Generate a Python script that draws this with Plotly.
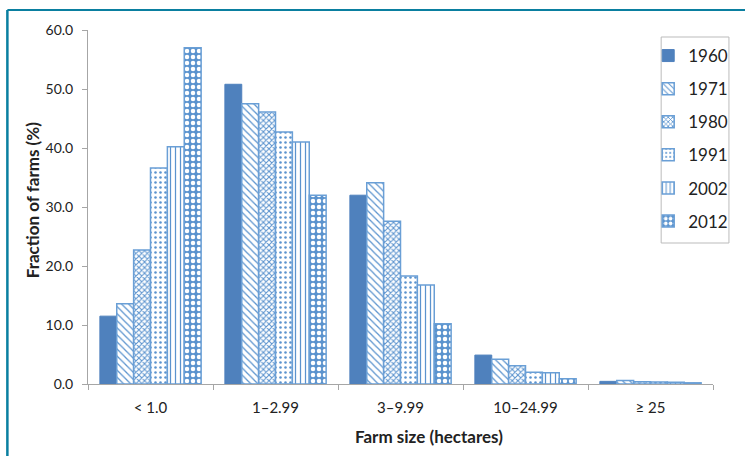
import plotly.graph_objects as go

categories = ["< 1.0", "1–2.99", "3–9.99", "10–24.99", "≥ 25"]
years = ["1960", "1971", "1980", "1991", "2002", "2012"]
v1960 = [11.5, 50.8, 32.0, 4.9, 0.45]
v1971 = [13.6, 47.5, 34.1, 4.2, 0.6]
v1980 = [22.7, 46.1, 27.6, 3.1, 0.4]
v1991 = [36.6, 42.7, 18.3, 2.0, 0.35]
v2002 = [40.2, 41.0, 16.8, 1.9, 0.3]
v2012 = [57.0, 32.0, 10.2, 0.9, 0.2]
series = [v1960, v1971, v1980, v1991, v2002, v2012]
patterns = ["", "\\", "x", ".", "|", "."]
psizes = [6, 5, 4, 5, 5, 6]
psolid = [0, 0.25, 0.45, 0.2, 0.25, 0.45]
pfg = ["", "#5B93CE", "#5B93CE", "#5B93CE", "#5B93CE", "white"]
pbg = ["", "white", "white", "white", "white", "#5B93CE"]

BLUE = "#4F81BD"
fig = go.Figure()
for i, (yr, vals) in enumerate(zip(years, series)):
    if patterns[i] == "":
        marker = dict(color=BLUE, line=dict(color=BLUE, width=1))
    else:
        marker = dict(color="white", line=dict(color="#6A9FD6", width=1.5),
                      pattern=dict(shape=patterns[i], fgcolor=pfg[i], bgcolor=pbg[i],
                                   size=psizes[i], solidity=psolid[i], fillmode="replace"))
    fig.add_trace(go.Bar(x=categories, y=vals, name=yr, marker=marker,
                         legendgroup=yr))

fig.update_layout(
    width=745, height=456,
    margin=dict(l=88, r=30, t=30, b=72),
    paper_bgcolor="white", plot_bgcolor="white",
    barmode="group", bargap=0.19, bargroupgap=0,
    font=dict(family="Lato, Liberation Sans, sans-serif", size=14, color="#222"),
    legend=dict(x=(650 - 88) / 627, y=(384 - 38) / 354, xanchor="left", yanchor="top",
                borderwidth=0, bgcolor="rgba(0,0,0,0)",
                font=dict(size=17, color="#222"), tracegroupgap=8,
                traceorder="grouped", itemwidth=30),
    xaxis=dict(showline=True, linecolor="#A6A6A6", linewidth=1,
               ticks="outside", tickson="boundaries", ticklen=5, tickcolor="#A6A6A6",
               tickfont=dict(size=15), showgrid=False, ticklabelstandoff=10),
    yaxis=dict(range=[0, 60], dtick=10, tickformat=".1f", showline=True,
               linecolor="#A6A6A6", linewidth=1, ticks="outside", ticklen=5,
               tickcolor="#A6A6A6", showgrid=False, zeroline=False,
               tickfont=dict(size=14), ticklabelstandoff=6),
    annotations=[
        dict(text="<b>Farm size (hectares)</b>", xref="paper", yref="paper",
             x=(430 - 88) / 627, y=(384 - 437) / 354, xanchor="center", yanchor="middle",
             showarrow=False, font=dict(size=17, color="#222")),
        dict(text="<b>Fraction of farms (%)</b>", xref="paper", yref="paper",
             x=(32 - 88) / 627, y=(384 - 200) / 354, xanchor="center", yanchor="middle",
             textangle=-90, showarrow=False, font=dict(size=17, color="#222")),
    ],
    shapes=[
        dict(type="line", xref="paper", yref="paper", x0=-0.129, x1=-0.129, y0=1.0565, y1=-0.25,
             line=dict(color="#0A7FA0", width=2.5)),
        dict(type="line", xref="paper", yref="paper", x0=-0.129, x1=1.06, y0=1.0565, y1=1.0565,
             line=dict(color="#0A7FA0", width=2)),
        dict(type="rect", xref="paper", yref="paper",
             x0=(663 - 88) / 627, x1=(731 - 88) / 627,
             y0=(384 - 243) / 354, y1=(384 - 37) / 354,
             line=dict(color="#BBBBBB", width=1), fillcolor="rgba(0,0,0,0)"),
    ],
)
fig.write_html("out.html", config={"displayModeBar": False},
               post_script="document.body.style.margin='0px';")
